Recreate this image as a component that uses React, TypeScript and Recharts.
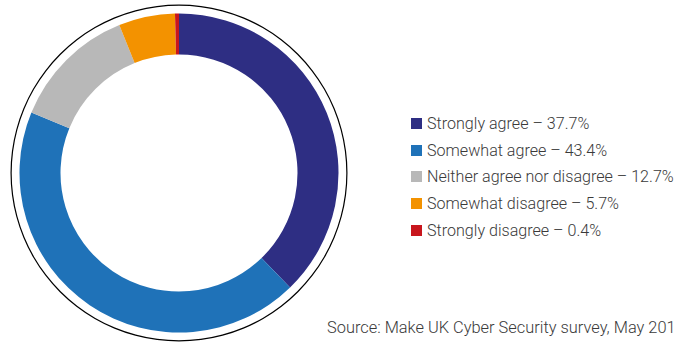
import React from "react";
import { PieChart, Pie, Cell, Legend } from "recharts";

const categories = [
  "Strongly agree",
  "Somewhat agree",
  "Neither agree nor disagree",
  "Somewhat disagree",
  "Strongly disagree",
];
const values = [37.7, 43.4, 12.7, 5.7, 0.4];
const colors = ["#2E2E83", "#1F72B8", "#B8B8B8", "#F39200", "#C8161D"];
const sourceText = "Source: Make UK Cyber Security survey, May 2019";

const data = categories.map((name, i) => ({ name, value: values[i] }));
const ringData = [{ name: "ring", value: 1 }];

const font = "Roboto, 'Noto Sans', sans-serif";

const renderLegend = () => (
  <div style={{ fontFamily: font, fontWeight: 300, fontSize: 16.1, color: "#3a3a3a" }}>
    {categories.map((c, i) => (
      <div key={c} style={{ display: "flex", alignItems: "center", height: 26.7, whiteSpace: "nowrap" }}>
        <span style={{ display: "inline-block", width: 11, height: 11, background: colors[i], marginRight: 5 }} />
        <span>{`${c} – ${values[i]}%`}</span>
      </div>
    ))}
  </div>
);

export default function App() {
  return (
    <div style={{ position: "absolute", left: 0, top: 0, width: 675, height: 342, overflow: "hidden", background: "#fff" }}>
      <PieChart width={675} height={342} margin={{ top: 0, right: 0, bottom: 0, left: 0 }}>
        <Pie
          data={ringData}
          dataKey="value"
          cx={179}
          cy={173}
          innerRadius={167.3}
          outerRadius={168.5}
          startAngle={90}
          endAngle={-270}
          stroke="none"
          fill="#000"
          isAnimationActive={false}
          legendType="none"
        />
        <Pie
          data={data}
          dataKey="value"
          nameKey="name"
          cx={179}
          cy={173}
          innerRadius={118.5}
          outerRadius={159.5}
          startAngle={90}
          endAngle={-270}
          stroke="none"
          isAnimationActive={false}
        >
          {data.map((d, i) => (
            <Cell key={d.name} fill={colors[i]} />
          ))}
        </Pie>
        <Legend
          content={renderLegend}
          wrapperStyle={{ position: "absolute", left: 411, top: 110, width: 290 }}
        />
      </PieChart>
      <div
        style={{
          position: "absolute",
          left: 327,
          top: 318,
          fontFamily: font,
          fontWeight: 300,
          fontSize: 16.4,
          color: "#3a3a3a",
          whiteSpace: "nowrap",
        }}
      >
        {sourceText}
      </div>
    </div>
  );
}
